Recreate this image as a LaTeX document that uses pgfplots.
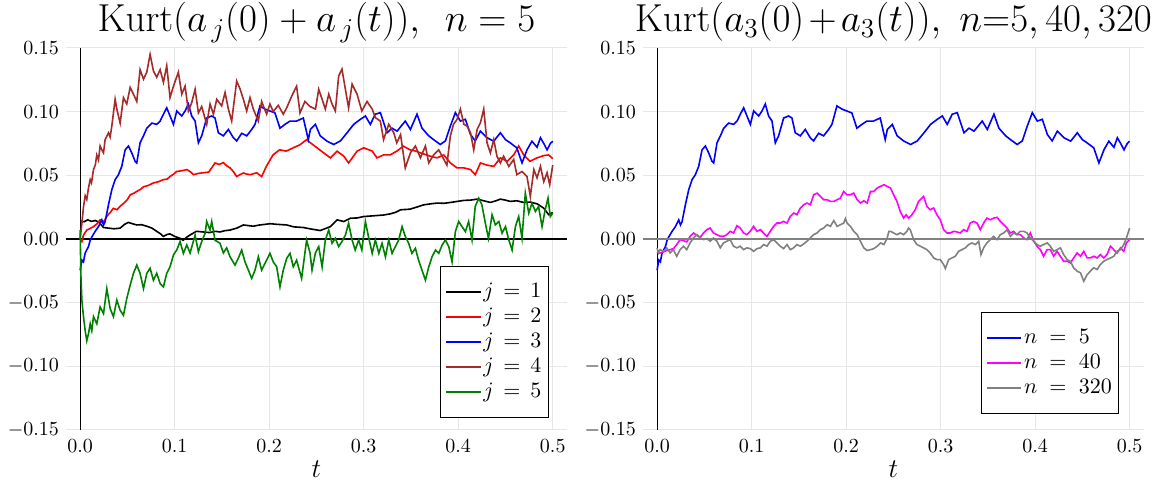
\RequirePackage{fix-cm}
\documentclass[border=0pt]{standalone}
\usepackage{pgfplots}
\pgfplotsset{compat=1.18}
\usepackage{pgfplotstable}
\definecolor{pbrown}{HTML}{A52A2A}
\definecolor{pgreen}{HTML}{008000}
\definecolor{pgray}{HTML}{808080}
\definecolor{pmag}{HTML}{FF00FF}
\definecolor{gridc}{HTML}{E6E6E6}

\pgfplotstableread{
t v
0.000 0.0142
0.004 0.0135
0.008 0.0150
0.012 0.0138
0.016 0.0145
0.020 0.0130
0.0247 0.0090
0.030 0.0085
0.036 0.0080
0.0423 0.0085
0.047 0.0115
0.051 0.0130
0.056 0.0118
0.060 0.0110
0.065 0.0112
0.0705 0.0100
0.076 0.0085
0.081 0.0060
0.085 0.0040
0.088 0.0020
0.092 0.0035
0.095 0.0040
0.100 0.0020
0.1057 0.0005
0.109 -0.0010
0.112 0.0010
0.116 0.0030
0.123 0.0060
0.130 0.0055
0.137 0.0050
0.143 0.0060
0.148 0.0055
0.153 0.0065
0.1586 0.0070
0.1656 0.0085
0.1727 0.0110
0.178 0.0105
0.183 0.0100
0.190 0.0110
0.196 0.0115
0.2008 0.0120
0.208 0.0115
0.2185 0.0110
0.226 0.0095
0.236 0.0090
0.2436 0.0079
0.254 0.0066
0.2647 0.0097
0.2718 0.0150
0.279 0.0137
0.286 0.0163
0.293 0.0165
0.300 0.0176
0.307 0.0180
0.314 0.0184
0.321 0.0188
0.328 0.0197
0.334 0.0210
0.339 0.0229
0.349 0.0234
0.356 0.0250
0.3635 0.0268
0.370 0.0275
0.3776 0.0282
0.385 0.0280
0.392 0.0287
0.399 0.0295
0.406 0.0303
0.413 0.0305
0.420 0.0313
0.427 0.0300
0.434 0.0287
0.440 0.0300
0.4446 0.0313
0.450 0.0305
0.455 0.0295
0.462 0.0300
0.469 0.0287
0.476 0.0290
0.4834 0.0276
0.4905 0.0242
0.4958 0.0190
0.500 0.0208
}\jone

\pgfplotstableread{
t v
0.000 0.0000
0.0018 -0.0020
0.0035 0.0030
0.007 0.0070
0.010 0.0080
0.014 0.0097
0.018 0.0120
0.021 0.0150
0.025 0.0135
0.028 0.0176
0.032 0.0210
0.035 0.0240
0.039 0.0230
0.042 0.0255
0.046 0.0280
0.050 0.0310
0.053 0.0347
0.057 0.0360
0.060 0.0374
0.064 0.0390
0.067 0.0410
0.072 0.0420
0.0775 0.0440
0.083 0.0450
0.088 0.0466
0.092 0.0470
0.095 0.0490
0.099 0.0510
0.102 0.0530
0.107 0.0535
0.113 0.0545
0.117 0.0525
0.120 0.0505
0.125 0.0515
0.130 0.0520
0.136 0.0525
0.1427 0.0597
0.147 0.0585
0.1515 0.0600
0.155 0.0575
0.1586 0.0558
0.162 0.0530
0.1656 0.0490
0.169 0.0505
0.1727 0.0518
0.176 0.0510
0.180 0.0505
0.1868 0.0520
0.192 0.0490
0.197 0.0570
0.204 0.0660
0.211 0.0700
0.218 0.0690
0.2255 0.0716
0.2326 0.0740
0.2396 0.0780
0.2436 0.0755
0.2506 0.0716
0.2577 0.0676
0.2647 0.0637
0.2718 0.0690
0.279 0.0650
0.284 0.0597
0.293 0.0690
0.300 0.0716
0.309 0.0690
0.314 0.0637
0.321 0.0660
0.328 0.0660
0.335 0.0690
0.342 0.0729
0.349 0.0700
0.355 0.0690
0.360 0.0676
0.3705 0.0650
0.3776 0.0637
0.3847 0.0660
0.3917 0.0597
0.3988 0.0558
0.406 0.0558
0.413 0.0545
0.418 0.0505
0.4235 0.0597
0.4305 0.0580
0.4376 0.0570
0.4446 0.0637
0.4517 0.0610
0.4587 0.0660
0.464 0.0730
0.4693 0.0660
0.476 0.0610
0.4834 0.0637
0.4905 0.0655
0.4958 0.0660
0.500 0.0630
}\jtwo

\pgfplotstableread{
t v
0.0000 -0.0245
0.0018 -0.0166
0.0035 -0.0180
0.0053 -0.0110
0.0088 -0.0060
0.0106 -0.0010
0.0123 0.0015
0.0159 0.0060
0.0194 0.0097
0.0229 0.0150
0.0247 0.0110
0.0264 0.0135
0.0300 0.0270
0.0335 0.0387
0.0370 0.0466
0.0405 0.0505
0.0440 0.0570
0.0476 0.0700
0.0511 0.0730
0.0546 0.0676
0.0581 0.0610
0.0599 0.0597
0.0634 0.0755
0.0670 0.0810
0.0705 0.0870
0.0758 0.0910
0.0810 0.0900
0.0846 0.0926
0.0881 0.0980
0.0916 0.1030
0.0951 0.0966
0.0987 0.0900
0.1022 0.1005
0.1075 0.0966
0.1110 0.1005
0.1145 0.1060
0.1180 0.0966
0.1216 0.0926
0.1251 0.0755
0.1286 0.0810
0.1339 0.0950
0.1392 0.0966
0.1427 0.0950
0.1462 0.0834
0.1515 0.0810
0.1568 0.0860
0.1621 0.0795
0.1656 0.0770
0.1709 0.0830
0.1762 0.0810
0.1815 0.0860
0.1850 0.0900
0.1903 0.1045
0.1956 0.1020
0.2008 0.1005
0.2061 0.0990
0.2114 0.0870
0.2167 0.0900
0.2220 0.0926
0.2290 0.0926
0.2361 0.0950
0.2414 0.0780
0.2436 0.0860
0.2489 0.0900
0.2540 0.0810
0.2612 0.0768
0.2683 0.0742
0.2753 0.0770
0.2824 0.0834
0.2894 0.0900
0.2965 0.0940
0.3018 0.0966
0.3070 0.0900
0.3123 0.0980
0.3176 0.0992
0.3247 0.0834
0.3300 0.0870
0.3353 0.0847
0.3440 0.0926
0.3494 0.0860
0.3564 0.0980
0.3617 0.0870
0.3688 0.0810
0.3740 0.0780
0.3810 0.0742
0.3864 0.0770
0.3917 0.0887
0.3970 0.0992
0.4023 0.0926
0.4076 0.0940
0.4130 0.0820
0.4180 0.0770
0.4235 0.0847
0.4305 0.0795
0.4376 0.0768
0.4446 0.0834
0.4500 0.0780
0.4550 0.0755
0.4620 0.0716
0.4675 0.0597
0.4728 0.0700
0.4780 0.0768
0.4834 0.0720
0.4870 0.0795
0.4905 0.0750
0.4940 0.0700
0.4975 0.0750
0.5000 0.0768
}\jthree

\pgfplotstableread{
t v
0.0000 0.0000
0.0018 0.0120
0.0035 0.0250
0.0053 0.0340
0.0070 0.0310
0.0088 0.0400
0.0106 0.0466
0.0120 0.0440
0.0141 0.0545
0.0160 0.0580
0.0176 0.0660
0.0194 0.0620
0.0211 0.0730
0.0229 0.0700
0.0247 0.0676
0.0264 0.0780
0.0300 0.0834
0.0317 0.0800
0.0335 0.0887
0.0370 0.1097
0.0388 0.1020
0.0423 0.0910
0.0458 0.1110
0.0493 0.1060
0.0529 0.1190
0.0564 0.1137
0.0599 0.1080
0.0634 0.1330
0.0670 0.1255
0.0705 0.1310
0.0740 0.1450
0.0775 0.1320
0.0810 0.1270
0.0846 0.1330
0.0881 0.1230
0.0916 0.1360
0.0951 0.1110
0.0987 0.1200
0.1039 0.1310
0.1075 0.1137
0.1110 0.1200
0.1145 0.1005
0.1180 0.1070
0.1216 0.1176
0.1251 0.0990
0.1286 0.1040
0.1339 0.0900
0.1374 0.1060
0.1410 0.0980
0.1445 0.1097
0.1497 0.1045
0.1533 0.1150
0.1568 0.1020
0.1603 0.0926
0.1656 0.1240
0.1691 0.1180
0.1727 0.1097
0.1762 0.1005
0.1797 0.1110
0.1832 0.1020
0.1885 0.0926
0.1920 0.1080
0.1973 0.0980
0.2008 0.1060
0.2043 0.1000
0.2096 0.1050
0.2149 0.0980
0.2185 0.1030
0.2237 0.1120
0.2290 0.1200
0.2326 0.0990
0.2378 0.1080
0.2432 0.1040
0.2490 0.1020
0.2524 0.1176
0.2560 0.1097
0.2594 0.1020
0.2630 0.1137
0.2665 0.1060
0.2700 0.1005
0.2735 0.1280
0.2770 0.1334
0.2806 0.1176
0.2840 0.1030
0.2877 0.1216
0.2930 0.1137
0.2980 0.1005
0.3035 0.1080
0.3090 0.1020
0.3123 0.0953
0.3176 0.0926
0.3210 0.0780
0.3265 0.0900
0.3318 0.0834
0.3350 0.0755
0.3390 0.0820
0.3440 0.0558
0.3494 0.0676
0.3547 0.0730
0.3600 0.0637
0.3653 0.0730
0.3688 0.0597
0.3740 0.0660
0.3794 0.0700
0.3830 0.0650
0.3880 0.0580
0.3917 0.0810
0.3950 0.0900
0.3988 0.0940
0.4023 0.1020
0.4060 0.0900
0.4093 0.0887
0.4130 0.0834
0.4164 0.0700
0.4200 0.0860
0.4235 0.0913
0.4270 0.1020
0.4305 0.0755
0.4340 0.0676
0.4376 0.0780
0.4410 0.0650
0.4446 0.0597
0.4480 0.0650
0.4535 0.0570
0.4587 0.0624
0.4620 0.0505
0.4675 0.0530
0.4728 0.0490
0.4763 0.0334
0.4800 0.0545
0.4834 0.0480
0.4870 0.0570
0.4905 0.0450
0.4940 0.0520
0.4968 0.0426
0.5000 0.0580
}\jfour

\pgfplotstableread{
t v
0.0000 0.0070
0.0007 -0.0270
0.0018 -0.0480
0.0035 -0.0610
0.0053 -0.0720
0.0070 -0.0800
0.0088 -0.0745
0.0106 -0.0666
0.0123 -0.0720
0.0141 -0.0610
0.0176 -0.0666
0.0211 -0.0534
0.0247 -0.0587
0.0282 -0.0390
0.0317 -0.0547
0.0352 -0.0610
0.0388 -0.0480
0.0423 -0.0560
0.0458 -0.0600
0.0493 -0.0468
0.0529 -0.0363
0.0564 -0.0270
0.0599 -0.0205
0.0634 -0.0270
0.0670 -0.0390
0.0705 -0.0270
0.0740 -0.0230
0.0775 -0.0324
0.0810 -0.0270
0.0846 -0.0350
0.0881 -0.0376
0.0916 -0.0270
0.0951 -0.0218
0.0987 -0.0126
0.1022 -0.0087
0.1057 -0.0020
0.1092 -0.0113
0.1128 -0.0047
0.1163 -0.0110
0.1216 0.0030
0.1251 -0.0100
0.1286 -0.0020
0.1322 0.0045
0.1339 0.0137
0.1374 0.0070
0.1392 0.0137
0.1427 -0.0010
0.1480 -0.0034
0.1515 -0.0110
0.1550 -0.0070
0.1586 -0.0140
0.1638 -0.0205
0.1674 -0.0150
0.1709 -0.0087
0.1744 -0.0180
0.1780 -0.0245
0.1815 -0.0310
0.1850 -0.0245
0.1885 -0.0140
0.1920 -0.0245
0.1973 -0.0166
0.2008 -0.0113
0.2043 -0.0180
0.2079 -0.0218
0.2114 -0.0376
0.2149 -0.0245
0.2185 -0.0153
0.2220 -0.0113
0.2255 -0.0218
0.2290 -0.0166
0.2343 -0.0310
0.2378 -0.0110
0.2396 -0.0010
0.2432 -0.0110
0.2453 -0.0245
0.2489 -0.0110
0.2524 -0.0060
0.2560 -0.0220
0.2594 -0.0008
0.2630 0.0070
0.2665 -0.0034
0.2700 0.0005
0.2735 -0.0060
0.2770 -0.0020
0.2806 0.0030
0.2840 0.0124
0.2877 -0.0008
0.2910 -0.0087
0.2947 -0.0008
0.2980 -0.0087
0.3018 0.0137
0.3050 0.0020
0.3090 -0.0113
0.3123 -0.0008
0.3160 -0.0113
0.3194 -0.0034
0.3230 -0.0140
0.3265 -0.0008
0.3300 -0.0113
0.3335 -0.0060
0.3370 -0.0008
0.3406 0.0097
0.3440 0.0020
0.3476 -0.0034
0.3510 -0.0113
0.3547 -0.0073
0.3580 -0.0166
0.3617 -0.0245
0.3653 -0.0324
0.3688 -0.0220
0.3723 -0.0140
0.3760 -0.0087
0.3794 -0.0113
0.3830 -0.0047
0.3864 -0.0008
0.3900 -0.0060
0.3935 -0.0180
0.3970 0.0058
0.4005 0.0137
0.4040 0.0097
0.4076 0.0058
0.4110 0.0137
0.4146 -0.0008
0.4180 0.0255
0.4217 0.0320
0.4250 0.0270
0.4287 0.0124
0.4320 0.0005
0.4358 0.0190
0.4393 0.0110
0.4430 0.0137
0.4464 0.0045
0.4500 0.0097
0.4535 -0.0008
0.4570 -0.0087
0.4605 0.0097
0.4640 0.0176
0.4675 0.0005
0.4710 0.0360
0.4746 0.0203
0.4780 0.0280
0.4817 0.0216
0.4850 0.0255
0.4887 0.0097
0.4920 0.0230
0.4950 0.0320
0.4975 0.0176
0.5000 0.0203
}\jfive

\pgfplotstableread{
t v
0.0000 -0.0102
0.0032 -0.0110
0.0067 -0.0102
0.0102 -0.0091
0.0138 -0.0084
0.0173 -0.0076
0.0208 -0.0044
0.0244 -0.0005
0.0279 -0.0013
0.0314 -0.0023
0.0350 0.0020
0.0385 0.0047
0.0420 0.0029
0.0456 0.0013
0.0491 0.0047
0.0527 0.0073
0.0562 0.0086
0.0597 0.0047
0.0633 0.0034
0.0668 0.0021
0.0703 0.0021
0.0739 0.0034
0.0774 0.0060
0.0809 0.0047
0.0845 0.0104
0.0880 0.0086
0.0915 0.0047
0.0950 0.0034
0.0986 0.0060
0.1021 0.0099
0.1057 0.0060
0.1092 0.0073
0.1127 0.0047
0.1163 0.0020
0.1198 0.0060
0.1233 0.0099
0.1269 0.0125
0.1304 0.0125
0.1339 0.0138
0.1375 0.0125
0.1410 0.0178
0.1445 0.0204
0.1480 0.0190
0.1516 0.0243
0.1551 0.0269
0.1587 0.0282
0.1622 0.0269
0.1657 0.0347
0.1693 0.0360
0.1728 0.0334
0.1763 0.0308
0.1800 0.0308
0.1834 0.0295
0.1870 0.0295
0.1905 0.0308
0.1940 0.0321
0.1975 0.0373
0.2010 0.0347
0.2046 0.0347
0.2081 0.0360
0.2117 0.0308
0.2152 0.0282
0.2187 0.0300
0.2223 0.0282
0.2258 0.0373
0.2293 0.0373
0.2329 0.0400
0.2364 0.0413
0.2400 0.0426
0.2435 0.0413
0.2470 0.0400
0.2503 0.0347
0.2538 0.0295
0.2573 0.0217
0.2608 0.0164
0.2635 0.0190
0.2661 0.0164
0.2696 0.0190
0.2732 0.0230
0.2767 0.0295
0.2802 0.0321
0.2820 0.0334
0.2855 0.0256
0.2890 0.0230
0.2926 0.0243
0.2961 0.0190
0.2996 0.0151
0.3032 0.0073
0.3067 0.0047
0.3102 0.0047
0.3138 0.0060
0.3173 0.0055
0.3208 0.0047
0.3244 0.0073
0.3279 0.0060
0.3314 0.0125
0.3350 0.0138
0.3385 0.0125
0.3420 0.0073
0.3455 0.0125
0.3490 0.0164
0.3526 0.0151
0.3561 0.0164
0.3597 0.0170
0.3632 0.0138
0.3667 0.0112
0.3702 0.0086
0.3738 0.0047
0.3773 0.0060
0.3808 0.0034
0.3843 0.0034
0.3879 0.0008
0.3914 -0.0005
0.3949 0.0047
0.3985 -0.0018
0.4020 -0.0057
0.4055 -0.0084
0.4090 -0.0136
0.4126 -0.0084
0.4161 -0.0084
0.4196 -0.0136
0.4232 -0.0097
0.4267 -0.0136
0.4302 -0.0175
0.4338 -0.0175
0.4373 -0.0188
0.4408 -0.0149
0.4444 -0.0110
0.4480 -0.0136
0.4515 -0.0097
0.4550 -0.0149
0.4585 -0.0149
0.4620 -0.0136
0.4656 -0.0149
0.4690 -0.0123
0.4726 -0.0149
0.4760 -0.0123
0.4797 -0.0057
0.4832 -0.0084
0.4867 -0.0110
0.4903 -0.0070
0.4938 -0.0097
0.4966 -0.0030
0.5000 -0.0005
}\nforty

\pgfplotstableread{
t v
0.0000 -0.0070
0.0014 -0.0110
0.0032 -0.0084
0.0067 -0.0097
0.0102 -0.0070
0.0138 -0.0110
0.0173 -0.0084
0.0208 -0.0136
0.0244 -0.0084
0.0279 -0.0057
0.0314 -0.0084
0.0350 -0.0030
0.0385 0.0008
0.0420 0.0034
0.0456 0.0008
0.0491 -0.0005
0.0527 0.0003
0.0562 -0.0018
0.0597 0.0008
0.0633 -0.0018
0.0668 -0.0070
0.0703 -0.0031
0.0739 -0.0018
0.0774 -0.0005
0.0809 -0.0057
0.0845 -0.0070
0.0880 -0.0057
0.0915 -0.0084
0.0950 -0.0070
0.0986 -0.0076
0.1021 -0.0097
0.1057 -0.0076
0.1092 -0.0070
0.1127 -0.0044
0.1163 -0.0057
0.1198 -0.0018
0.1233 -0.0005
0.1269 -0.0031
0.1304 -0.0057
0.1339 -0.0076
0.1375 -0.0044
0.1410 -0.0084
0.1445 -0.0070
0.1480 -0.0044
0.1516 -0.0057
0.1551 -0.0039
0.1587 -0.0018
0.1622 0.0008
0.1657 0.0034
0.1693 0.0047
0.1728 0.0073
0.1763 0.0086
0.1800 0.0112
0.1834 0.0099
0.1870 0.0144
0.1905 0.0099
0.1940 0.0112
0.1975 0.0125
0.1993 0.0160
0.2010 0.0125
0.2046 0.0099
0.2081 0.0060
0.2117 0.0034
0.2152 -0.0018
0.2187 -0.0070
0.2223 -0.0091
0.2258 -0.0084
0.2293 -0.0076
0.2329 -0.0057
0.2364 -0.0031
0.2400 -0.0044
0.2435 0.0008
0.2453 0.0060
0.2470 0.0060
0.2503 0.0047
0.2538 0.0034
0.2573 0.0047
0.2608 0.0034
0.2643 0.0060
0.2661 0.0086
0.2679 0.0073
0.2714 -0.0005
0.2750 -0.0044
0.2785 -0.0057
0.2820 -0.0070
0.2855 -0.0084
0.2890 -0.0110
0.2926 -0.0149
0.2961 -0.0162
0.2996 -0.0162
0.3032 -0.0201
0.3050 -0.0232
0.3085 -0.0162
0.3120 -0.0149
0.3155 -0.0136
0.3191 -0.0097
0.3226 -0.0084
0.3261 -0.0070
0.3297 -0.0044
0.3332 -0.0031
0.3367 -0.0044
0.3403 -0.0018
0.3427 -0.0123
0.3455 -0.0070
0.3490 -0.0031
0.3526 -0.0005
0.3561 0.0020
0.3597 -0.0005
0.3632 0.0034
0.3667 0.0047
0.3702 0.0073
0.3738 0.0021
0.3773 0.0047
0.3808 0.0034
0.3843 0.0060
0.3879 0.0060
0.3914 0.0047
0.3949 0.0008
0.3985 -0.0018
0.4020 -0.0044
0.4055 -0.0057
0.4090 -0.0044
0.4126 -0.0031
0.4161 -0.0057
0.4196 -0.0097
0.4232 -0.0084
0.4267 -0.0070
0.4302 -0.0123
0.4338 -0.0162
0.4373 -0.0175
0.4408 -0.0227
0.4444 -0.0253
0.4480 -0.0266
0.4515 -0.0332
0.4550 -0.0280
0.4585 -0.0253
0.4620 -0.0227
0.4656 -0.0240
0.4690 -0.0201
0.4726 -0.0175
0.4760 -0.0162
0.4797 -0.0149
0.4832 -0.0136
0.4867 -0.0097
0.4903 -0.0084
0.4938 -0.0044
0.4966 0.0008
0.5000 0.0086
}\nthreetwenty

\pgfplotsset{
  kurtaxis/.style={
    scale only axis, width=250.5pt, height=191pt,
    xmin=-0.015, xmax=0.515, ymin=-0.15, ymax=0.15,
    xtick={0,0.1,0.2,0.3,0.4,0.5},
    ytick={-0.15,-0.10,-0.05,0,0.05,0.10,0.15},
    scaled ticks=false,
    tick label style={font=\fontsize{10}{12}\selectfont},
    xticklabel style={yshift=-1.5pt},
    x tick label style={/pgf/number format/fixed, /pgf/number format/zerofill, /pgf/number format/precision=1},
    y tick label style={/pgf/number format/fixed, /pgf/number format/zerofill, /pgf/number format/precision=2},
    grid=major, major grid style={draw=gridc, line width=0.5pt},
    major tick length=0pt, tick style={draw=none},
    axis line style={draw=none},
    xlabel={$t$},
    every axis x label/.style={at={(axis description cs:0.5,0)}, anchor=base, yshift=-24pt, font=\fontsize{13.5}{16}\selectfont},
    every axis title/.style={at={(axis description cs:0.5,1)}, anchor=base, yshift=8.2pt, font=\fontsize{19.5}{23}\selectfont},
    legend cell align=left,
    legend style={draw=black, line width=0.5pt, fill=white, font=\fontsize{11}{13}\selectfont,
      inner xsep=2.5pt, inner ysep=6.5pt, row sep=0pt,
      nodes={inner xsep=1pt, inner ysep=1pt, text height=8pt, text depth=2.5pt},
      /tikz/every odd column/.append style={column sep=0pt}},
    every axis plot/.append style={line width=0.8pt},
  }
}

\begin{document}
\begin{tikzpicture}
\useasboundingbox (-33pt,-25.5pt) rectangle (546.6pt,215pt);
\begin{axis}[kurtaxis, at={(0pt,0pt)}, anchor=south west,
  title={$\mathrm{Kurt}(a_{\,j}(0) + a_{\,j}(t)),\ \, n = 5$},
  legend style={at={(0.964,0.429)}, anchor=north east}]
\draw[black, line width=0.6pt] (axis cs:-0.015,0) -- (axis cs:0.515,0);
\draw[black, line width=0.5pt] (axis cs:0,-0.15) -- (axis cs:0,0.15);
\addplot[black] table[x=t,y=v] {\jone};
\addplot[red] table[x=t,y=v] {\jtwo};
\addplot[blue] table[x=t,y=v] {\jthree};
\addplot[pbrown] table[x=t,y=v] {\jfour};
\addplot[pgreen] table[x=t,y=v] {\jfive};
\legend{{$j\,=\,1$\hspace{3pt}},{$j\,=\,2$\hspace{3pt}},{$j\,=\,3$\hspace{3pt}},{$j\,=\,4$\hspace{3pt}},{$j\,=\,5$\hspace{3pt}}}
\end{axis}
\begin{axis}[kurtaxis, at={(288.5pt,0pt)}, anchor=south west,
  title={$\mathrm{Kurt}(a_3(0)\mskip2mu{+}\mskip2mu a_3(t)),\ n{=}5, 40, 320$},
  legend style={at={(0.951,0.3086)}, anchor=north east}]
\draw[black, line width=0.5pt] (axis cs:0,-0.15) -- (axis cs:0,0.15);
\addplot[blue] table[x=t,y=v] {\jthree};
\addplot[pmag] table[x=t,y=v] {\nforty};
\addplot[pgray] table[x=t,y=v] {\nthreetwenty};
\draw[pgray, line width=1.1pt] (axis cs:-0.015,0) -- (axis cs:0.515,0);
\legend{{$n\;=\;5$\hspace{3pt}},{$n\;=\;40$\hspace{3pt}},{$n\;=\;320$\hspace{3pt}}}
\end{axis}
\end{tikzpicture}
\end{document}
